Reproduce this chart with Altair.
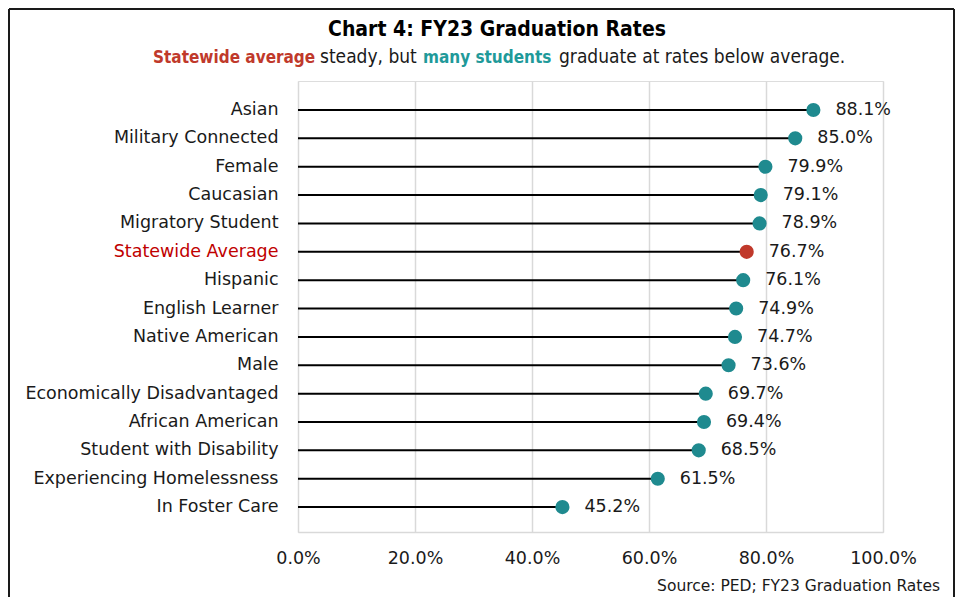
import altair as alt
import pandas as pd

groups = ["Asian", "Military Connected", "Female", "Caucasian", "Migratory Student",
          "Statewide Average", "Hispanic", "English Learner", "Native American", "Male",
          "Economically Disadvantaged", "African American", "Student with Disability",
          "Experiencing Homelessness", "In Foster Care"]
rates = [88.1, 85.0, 79.9, 79.1, 78.9, 76.7, 76.1, 74.9, 74.7, 73.6, 69.7, 69.4, 68.5, 61.5, 45.2]
x_ticks = [0, 20, 40, 60, 80, 100]

title_text = "Chart 4: FY23 Graduation Rates"
sub_parts = ["Statewide average", "steady, but", "many students", "graduate at rates below average."]
source_text = "Source: PED; FY23 Graduation Rates"

df = pd.DataFrame({"group": groups, "rate": rates})
df["start"] = 0
df["kind"] = ["avg" if g == "Statewide Average" else "group" for g in groups]
df["label"] = [f"{r:.1f}%" for r in rates]

W, H = 585, 451
PL, PT = 290, 73
PR = 947 - PL - W
PB = 589 - PT - H

BODY_FONT = "DejaVu Sans"
COND_FONT = "'DejaVu Sans Condensed', 'Liberation Sans', sans-serif"
FS = 17.5

y_enc = alt.Y(
    "group:N", sort=groups,
    scale=alt.Scale(paddingOuter=0.45, paddingInner=0, align=0.58),
    axis=alt.Axis(title=None, ticks=False, domain=False, grid=False, labelLimit=400,
                  labelFont=BODY_FONT, labelFontSize=FS, labelPadding=20,
                  labelColor=alt.expr("datum.value == 'Statewide Average' ? '#C00000' : '#1a1a1a'")),
)
x_enc = alt.X(
    "rate:Q", scale=alt.Scale(domain=[0, 100]),
    axis=alt.Axis(values=x_ticks, title=None, ticks=False, labelFlush=False,
                  labelExpr="format(datum.value, '.1f') + '%'",
                  labelFont=BODY_FONT, labelFontSize=FS, labelColor="#1a1a1a", labelPadding=17,
                  grid=True, gridColor="#D9D9D9", gridWidth=1.5,
                  domainColor="#D9D9D9", domainWidth=1.5),
)

base = alt.Chart(df)

stems = base.mark_rule(color="black", strokeWidth=2).encode(
    x=alt.X("start:Q", scale=alt.Scale(domain=[0, 100])), x2="rate:Q", y=y_enc)
dots = base.mark_circle(size=200, opacity=1).encode(
    x=x_enc, y=y_enc,
    color=alt.Color("kind:N", scale=alt.Scale(domain=["group", "avg"], range=["#1F8A8F", "#C0392B"]), legend=None),
)
values = base.mark_text(align="left", baseline="middle", dx=22, font=BODY_FONT, fontSize=FS,
                        color="#1a1a1a").encode(x="rate:Q", y=y_enc, text="label:N")

one = alt.Data(values=[{"a": 1}])

def label(text, x, y, **kw):
    return alt.Chart(one).mark_text(text=text, baseline="alphabetic", **kw).encode(
        x=alt.value(x), y=alt.value(y))

title = label(title_text, 199, -45, align="center", font=COND_FONT, fontSize=21, fontWeight="bold", color="#000000")
sub1 = label(sub_parts[0], -145, -18, align="left", font=COND_FONT, fontSize=17, fontWeight="bold", color="#C0392B")
sub2 = label(sub_parts[1], 22, -18, align="left", font=COND_FONT, fontSize=19, color="#1a1a1a")
sub3 = label(sub_parts[2], 125, -18, align="left", font=COND_FONT, fontSize=17, fontWeight="bold", color="#1F9A9A")
sub4 = label(sub_parts[3], 261, -18, align="left", font=COND_FONT, fontSize=19, color="#1a1a1a")
source = label(source_text, 642, 510, align="right", font=BODY_FONT, fontSize=15.5, color="#1a1a1a")

frame_left = alt.Chart(one).mark_rule(color="#1a1a1a", strokeWidth=2).encode(
    x=alt.value(-289), y=alt.value(-72), y2=alt.value(H + PB + 5))
frame_top = alt.Chart(one).mark_rule(color="#1a1a1a", strokeWidth=2).encode(
    x=alt.value(-289), x2=alt.value(W + PR - 1), y=alt.value(-72))
frame_right = alt.Chart(one).mark_rule(color="#1a1a1a", strokeWidth=2).encode(
    x=alt.value(W + PR - 1), y=alt.value(-72), y2=alt.value(H + PB + 5))

chart = alt.layer(
    stems, dots, values, title, sub1, sub2, sub3, sub4, source, frame_left, frame_top, frame_right
).properties(
    width=W, height=H,
    padding={"left": PL, "top": PT, "right": PR, "bottom": PB},
    autosize=alt.AutoSizeParams(type="none"),
).configure_view(stroke=None).configure(background="white")

chart.save("out.html", embed_options={"renderer": "svg", "actions": False})
